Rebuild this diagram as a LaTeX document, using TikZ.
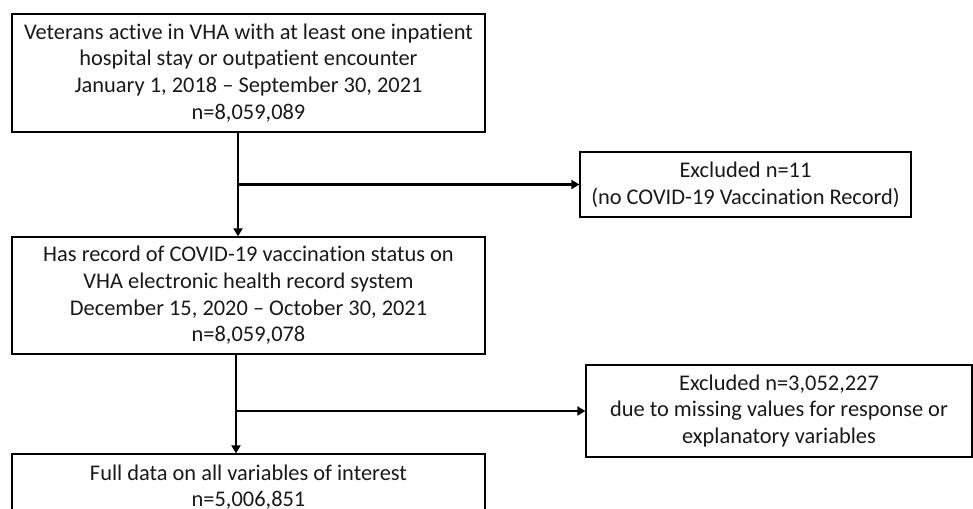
\documentclass[tikz,border=0pt]{standalone}
\usepackage{fontspec}
\setmainfont[RawFeature={-liga}]{Carlito}
\usetikzlibrary{arrows.meta}
\begin{document}
\begin{tikzpicture}[x=1pt,y=-1pt,
  box/.style={draw=black,line width=1.3pt,align=center,inner sep=0pt,
    font=\fontsize{22.4}{26.7}\selectfont,text=black!90},
  arr/.style={line width=2.6pt,-{Triangle[length=8pt,width=9pt]}}]
\useasboundingbox (0,0) rectangle (973,508);
\clip (0,0) rectangle (973,508);
\node[box,minimum width=473pt,minimum height=118pt] (b1) at (248.5,73)
  {Veterans active in VHA with at least one inpatient\\hospital stay or outpatient encounter\\January 1, 2018 -- September 30, 2021\\n=8,059,089};
\node[box,minimum width=473pt,minimum height=117pt] (b2) at (248.5,295.5)
  {Has record of COVID-19 vaccination status on\\VHA electronic health record system\\December 15, 2020 -- October 30, 2021\\n=8,059,078};
\node[box,minimum width=473pt,minimum height=66pt] (b3) at (248.5,487)
  {Full data on all variables of interest\\n=5,006,851};
\node[box,minimum width=331pt,minimum height=65pt] (e1) at (745.5,184.5)
  {Excluded n=11\\(no COVID-19 Vaccination Record)};
\node[box,minimum width=386pt,minimum height=92pt] (e2) at (779,411)
  {Excluded n=3,052,227\\due to missing values for response or\\explanatory variables};
\coordinate (c1) at (238,0);
\coordinate (c2) at (236,0);
\draw[arr] (b1.south -| c1) -- (b2.north -| c1);
\draw[arr] (c1 |- e1.west) -- (e1.west);
\draw[arr] (b2.south -| c2) -- (b3.north -| c2);
\draw[arr] (c2 |- e2.west) -- (e2.west);
\end{tikzpicture}
\end{document}
